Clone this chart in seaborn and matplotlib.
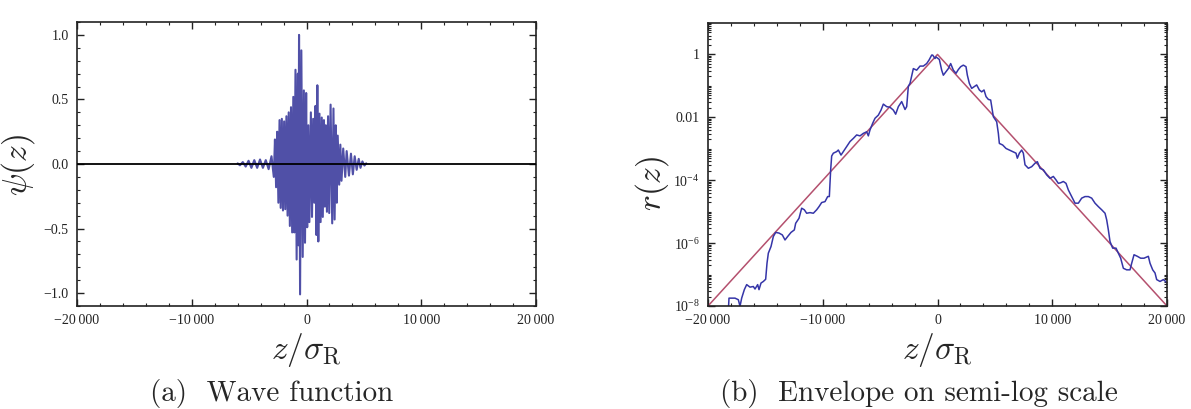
import numpy as np
import pandas as pd
import matplotlib
matplotlib.use("Agg")
import matplotlib.pyplot as plt
import matplotlib.ticker as mticker
import seaborn as sns

# ---------------- data ----------------
# (a) wave function: successive extrema of psi(z)
wave_z = [-6000, -5800, -5550, -5300, -5050, -4800, -4550, -4300, -4050, -3800,
          -3550, -3300, -3050, -2850, -2750, -2650, -2550, -2450, -2350, -2250,
          -2150, -2050, -1950, -1850, -1750, -1650, -1550, -1450, -1350, -1250,
          -1150, -1060, -960, -860, -750, -700, -650, -560, -450, -330,
          -230, -130, -30, 60, 160, 250, 380, 480, 580, 680,
          780, 860, 945, 1030, 1130, 1230, 1330, 1420, 1520, 1600,
          1680, 1780, 1880, 1980, 2100, 2240, 2350, 2450, 2550, 2640,
          2720, 2850, 2950, 3050, 3200, 3375, 3500, 3700, 3874, 4040,
          4200, 4372, 4550, 4705, 4871, 5050, 5204]
wave_psi = [0.005, -0.01, 0.015, -0.02, 0.025, -0.03, 0.03, -0.03, 0.035, -0.03,
            0.03, -0.04, 0.06, -0.10, 0.19, -0.18, 0.25, -0.30, 0.34, -0.34,
            0.35, -0.36, 0.33, -0.35, 0.37, -0.40, 0.40, -0.48, 0.44, -0.53,
            0.52, -0.53, 0.73, -0.74, 0.70, -0.63, 1.00, -1.01, 0.88, -0.72,
            0.57, -0.61, 0.55, -0.49, 0.30, -0.45, 0.40, -0.41, 0.35, -0.30,
            0.45, -0.55, 0.61, -0.60, 0.39, -0.45, 0.36, -0.41, 0.34, -0.33,
            0.30, -0.37, 0.37, -0.38, 0.46, -0.46, 0.43, -0.43, 0.30, -0.30,
            0.22, -0.16, 0.15, -0.13, 0.12, -0.10, 0.10, -0.09, 0.08, -0.08,
            0.06, -0.045, 0.04, -0.03, 0.02, -0.012, 0.005]

# (b) envelope: z positions and log10 r(z)
env_z = [-18250, -18170, -17647, -17357, -17211, -17066, -16834, -16630, -16340, -16049,
         -15904, -15672, -15555, -15381, -15178, -14975, -14858, -14742, -14510, -14306,
         -14103, -13812, -13522, -13289, -13057, -12767, -12476, -12360, -12069, -11837,
         -11605, -11401, -11111, -10820, -10530, -10326, -10094, -9803, -9571, -9426,
         -9310, -9222, -9077, -8787, -8642, -8409, -8206, -7915, -7625, -7334,
         -7044, -6753, -6463, -6172, -6027, -5882, -5650, -5446, -5156, -4923,
         -4720, -4429, -4139, -3848, -3645, -3412, -3122, -2831, -2686, -2541,
         -2396, -2105, -1815, -1524, -1234, -943, -740, -507, -420, -217,
         -130, 161, 364, 509, 742, 945, 1148, 1381, 1613, 1817,
         2020, 2252, 2485, 2601, 2775, 2979, 3182, 3414, 3647, 3850,
         4053, 4228, 4431, 4634, 4867, 5157, 5303, 5390, 5680, 5971,
         6261, 6552, 6842, 6958, 7133, 7336, 7481, 7626, 7917, 8207,
         8498, 8701, 8934, 9224, 9515, 9805, 10096, 10328, 10531, 10735,
         10967, 11200, 11403, 11693, 11984, 12274, 12565, 12855, 13146, 13437,
         13727, 14018, 14308, 14599, 14744, 14889, 15034, 15267, 15557, 15761,
         15964, 16196, 16487, 16777, 16923, 17126, 17416, 17707, 17997, 18375,
         18520, 18753, 18956, 19101, 19392, 19683, 20031]
env_log10 = [-8.3, -7.75, -7.75, -7.80, -8.01, -7.75, -7.48, -7.32, -7.40, -7.38,
             -7.46, -7.32, -7.48, -7.27, -7.22, -7.15, -6.64, -6.32, -6.11, -5.79,
             -5.66, -5.68, -5.74, -5.90, -5.79, -5.66, -5.58, -5.37, -5.21, -4.89,
             -4.94, -5.05, -5.03, -5.05, -4.94, -4.84, -4.71, -4.68, -4.52, -4.52,
             -3.67, -3.23, -3.14, -3.09, -3.04, -3.20, -3.09, -2.93, -2.77, -2.67,
             -2.56, -2.59, -2.51, -2.46, -2.59, -2.40, -2.19, -2.03, -1.93, -1.77,
             -1.58, -1.66, -1.68, -1.77, -1.90, -1.66, -1.50, -1.75, -1.66, -1.01,
             -0.92, -0.45, -0.50, -0.37, -0.37, -0.29, -0.18, -0.02, -0.02, -0.13,
             -0.08, -0.16, -0.50, -0.66, -0.55, -0.45, -0.29, -0.50, -0.60, -0.48,
             -0.39, -0.34, -0.39, -0.66, -0.92, -1.08, -1.03, -0.97, -1.13, -1.19,
             -1.13, -1.34, -1.43, -1.45, -1.98, -2.14, -2.51, -2.83, -2.88, -2.99,
             -3.04, -3.09, -3.14, -3.30, -3.14, -3.04, -3.14, -3.51, -3.62, -3.57,
             -3.46, -3.41, -3.62, -3.67, -3.83, -3.94, -3.88, -3.99, -4.10, -4.08,
             -4.04, -4.10, -4.31, -4.52, -4.73, -4.73, -4.57, -4.52, -4.52, -4.57,
             -4.73, -4.84, -4.94, -5.05, -5.26, -5.58, -5.95, -6.16, -6.16, -6.32,
             -6.48, -6.80, -6.85, -6.85, -6.64, -6.37, -6.42, -6.48, -6.48, -6.42,
             -6.64, -6.85, -6.95, -7.16, -7.22, -7.16, -7.27]

# exponential fit (red line): corner points
fit_z = [-20000, 0, 20000]
fit_r = [1e-8, 1.0, 1e-8]

x_ticks = [-20000, -10000, 0, 10000, 20000]
x_ticklabels = ["\u221220\u2009000", "\u221210\u2009000", "0", "10\u2009000", "20\u2009000"]
psi_ticks = [-1.0, -0.5, 0.0, 0.5, 1.0]
psi_ticklabels = ["\u22121.0", "\u22120.5", "0.0", "0.5", "1.0"]
r_ticks = [1e-8, 1e-6, 1e-4, 1e-2, 1.0]
r_ticklabels = [r"$10^{-8}$", r"$10^{-6}$", r"$10^{-4}$", "0.01", "1"]

# ---------------- style ----------------
sns.set_style("ticks")
plt.rcParams["font.family"] = ["Liberation Serif", "DejaVu Serif"]
plt.rcParams["mathtext.fontset"] = "custom"
plt.rcParams["mathtext.rm"] = "Liberation Serif"
plt.rcParams["mathtext.it"] = "Liberation Serif:italic"

W, H = 1191, 409
fig = plt.figure(figsize=(W / 100, H / 100), dpi=100)

def box(l, t, r, b):
    return [l / W, 1 - b / H, (r - l) / W, (b - t) / H]

ax1 = fig.add_axes(box(77, 22, 536, 306))
ax2 = fig.add_axes(box(708, 23, 1167, 306))

wave_df = pd.DataFrame({"z": wave_z, "psi": wave_psi})
env_df = pd.DataFrame({"z": env_z, "r": 10.0 ** np.array(env_log10)})
fit_df = pd.DataFrame({"z": fit_z, "r": fit_r})

# (a)
sns.lineplot(data=wave_df, x="z", y="psi", ax=ax1, sort=False, estimator=None,
             color="#3d3d9e", lw=1.5, alpha=0.9)
ax1.axhline(0, color="black", lw=1.3, zorder=3)
ax1.set_xlim(-20000, 20000)
ax1.set_ylim(-1.1, 1.1)
ax1.set_xticks(x_ticks, x_ticklabels)
ax1.set_yticks(psi_ticks, psi_ticklabels)
ax1.xaxis.set_minor_locator(mticker.MultipleLocator(2000))
ax1.yaxis.set_minor_locator(mticker.MultipleLocator(0.1))

# (b)
sns.lineplot(data=fit_df, x="z", y="r", ax=ax2, sort=False, estimator=None,
             color="#b4506e", lw=1.1)
sns.lineplot(data=env_df, x="z", y="r", ax=ax2, sort=False, estimator=None,
             color="#3535a8", lw=1.1)
ax2.set_yscale("log")
ax2.set_xlim(-20000, 20000)
ax2.set_ylim(1e-8, 10)
ax2.set_xticks(x_ticks, x_ticklabels)
ax2.set_yticks(r_ticks, r_ticklabels)
ax2.yaxis.set_minor_locator(mticker.LogLocator(base=10, subs=np.arange(1, 10), numticks=50))
ax2.yaxis.set_minor_formatter(mticker.NullFormatter())
ax2.xaxis.set_minor_locator(mticker.MultipleLocator(2000))

for ax in (ax1, ax2):
    for s in ax.spines.values():
        s.set_visible(True)
        s.set_linewidth(1.2)
        s.set_color("#222222")
    ax.tick_params(which="both", direction="in", top=True, right=True,
                   labelsize=10, colors="#222222", pad=6)
    ax.tick_params(which="major", length=5, width=1.0)
    ax.tick_params(which="minor", length=2.5, width=0.8)
    ax.set_xlabel("")
    ax.set_ylabel("")

lab_kw = dict(fontsize=24, math_fontfamily="cm")
fig.text(306 / W, 1 - 350 / H, r"$z/\sigma_{\rm R}$", ha="center", va="center", **lab_kw)
fig.text(937 / W, 1 - 350 / H, r"$z/\sigma_{\rm R}$", ha="center", va="center", **lab_kw)
fig.text(18 / W, 1 - 165 / H, r"$\psi(z)$", ha="center", va="center", rotation=90, **lab_kw)
fig.text(652 / W, 1 - 183 / H, r"$r(z)$", ha="center", va="center", rotation=90, **lab_kw)

cap_kw = dict(fontsize=21, family="cmr10", ha="left", va="center")
fig.text(150 / W, 1 - 394 / H, "(a)  Wave function", **cap_kw)
fig.text(720 / W, 1 - 394 / H, "(b)  Envelope on semi-log scale", **cap_kw)

fig.savefig("out.png", dpi=100)
